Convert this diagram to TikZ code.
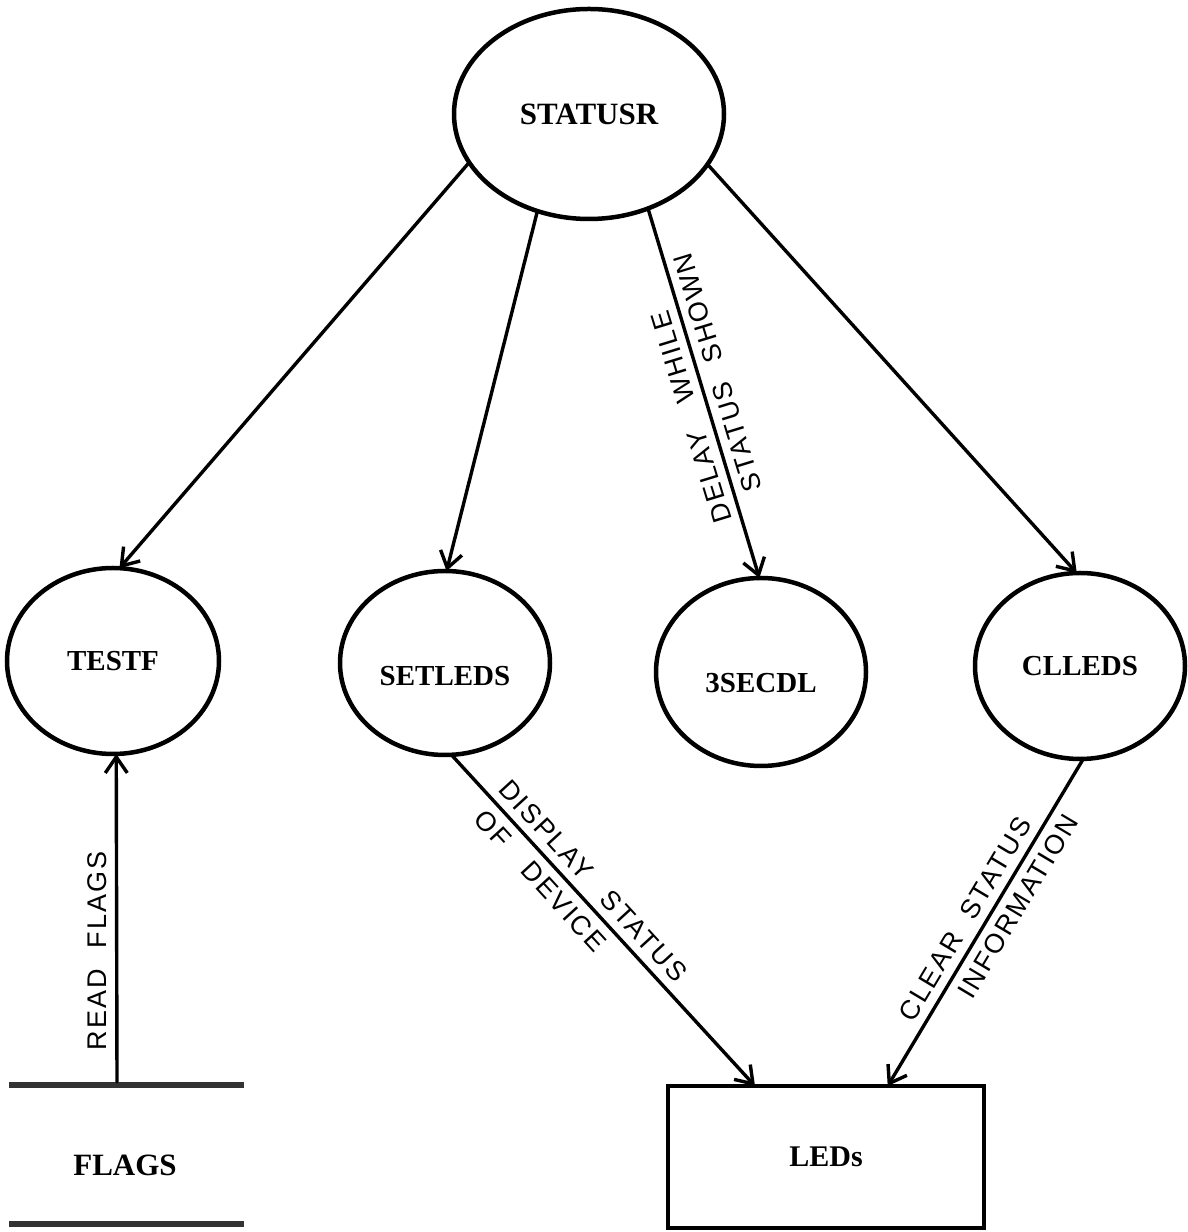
\documentclass[tikz,border=0pt]{standalone}
\usepackage{fontspec}
\setmainfont{Liberation Serif}
\newfontfamily\handfont[LetterSpace=8]{Liberation Sans}
\usetikzlibrary{shapes.geometric,arrows.meta}
\begin{document}
\begin{tikzpicture}[x=1pt,y=1pt,
  proc/.style={ellipse,draw,line width=4.5pt,inner sep=0pt,outer sep=0pt,
    font=\fontsize{29}{31}\selectfont\bfseries},
  flow/.style={line width=3.4pt,line cap=round,
    -{Straight Barb[length=16pt,width=22pt,line width=3.4pt]}},
  lbl/.style={font=\fontsize{27}{29}\selectfont\handfont,inner sep=8pt},
  storebar/.style={line width=6.5pt,black!80},
  termbox/.style={draw,line width=4pt,inner sep=0pt,outer sep=0pt,
    font=\fontsize{30}{32}\selectfont\bfseries}]
\useasboundingbox (0,0) rectangle (1187,1232);

% processes
\node[proc,minimum width=270pt,minimum height=210pt,
  font=\fontsize{31}{33}\selectfont\bfseries] (stat) at (589,1118) {STATUSR};
\node[proc,minimum width=212pt,minimum height=186pt] (testf) at (113,571) {TESTF};
\node[proc,minimum width=210pt,minimum height=184pt,text height=46pt] (setleds) at (445,569) {SETLEDS};
\node[proc,minimum width=210pt,minimum height=188pt,text height=42pt] (secdl) at (761,560) {3SECDL};
\node[proc,minimum width=210pt,minimum height=186pt] (clleds) at (1080,566) {CLLEDS};

% terminator
\node[termbox,minimum width=316pt,minimum height=142pt] (leds) at (826,75) {LEDs};

% data store
\draw[storebar] (9,147) -- (244,147);
\draw[storebar] (9,8) -- (244,8);
\node[font=\fontsize{31}{33}\selectfont\bfseries] (flags) at (125,67) {FLAGS};
\coordinate (ftop) at (117,150);

% flows
\draw[flow] (stat.202) -- (testf.86);
\draw[flow] (stat.242) -- (setleds.89);
\draw[flow] (stat.302) -- (secdl.91)
  node[lbl,pos=0.55,rotate=107,anchor=south] {DELAY\hspace{30pt}WHILE}
  node[lbl,pos=0.46,rotate=107,anchor=north] {STATUS\hspace{22pt}SHOWN};
\draw[flow] (stat.337) -- (clleds.92);
\draw[flow] (ftop) -- (testf.272)
  node[lbl,pos=0.40,rotate=90,anchor=south] {READ\hspace{20pt}FLAGS};
\draw[flow] (setleds.274) -- (leds.135)
  node[lbl,sloped,above,pos=0.42] {DISPLAY\hspace{25pt}STATUS}
  node[lbl,sloped,below,pos=0.34] {OF\hspace{30pt}DEVICE};
\draw[flow] (clleds.272) -- (leds.49)
  node[lbl,sloped,above,pos=0.52] {CLEAR\hspace{20pt}STATUS}
  node[lbl,sloped,below,pos=0.42] {INFORMATION};
\end{tikzpicture}
\end{document}
